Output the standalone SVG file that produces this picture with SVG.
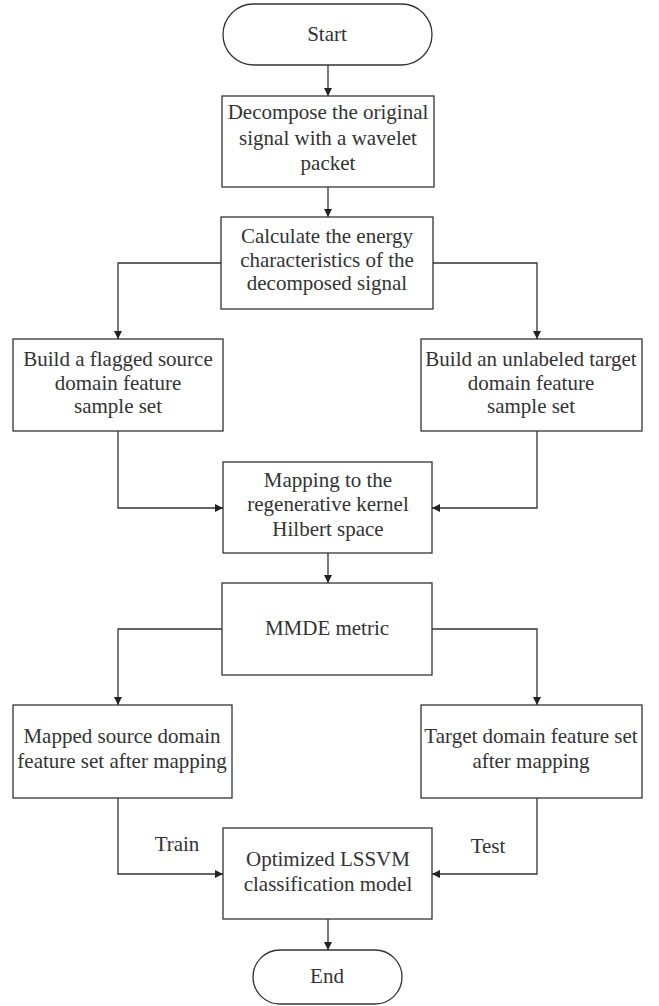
<svg xmlns="http://www.w3.org/2000/svg" width="659" height="1006" viewBox="0 0 659 1006">
<style>
.box{fill:#fff;stroke:#333;stroke-width:1.3}
.t{font-family:"Liberation Serif","Times New Roman",serif;font-size:21px;fill:#333;text-anchor:middle}
.c{fill:none;stroke:#333;stroke-width:1.3}
</style>
<defs>
<marker id="ah" viewBox="0 0 10 10" refX="10" refY="5" markerWidth="9" markerHeight="8" markerUnits="userSpaceOnUse" orient="auto">
<path d="M0,0 L10,5 L0,10 Z" fill="#222"/>
</marker>
</defs>
<rect width="659" height="1006" fill="#fff"/>
<g id="connectors">
<line class="c" x1="328" y1="65" x2="328" y2="96" marker-end="url(#ah)"/>
<line class="c" x1="328" y1="187" x2="328" y2="217" marker-end="url(#ah)"/>
<polyline class="c" points="222,263 118,263 118,339" marker-end="url(#ah)"/>
<polyline class="c" points="433,263 537,263 537,339" marker-end="url(#ah)"/>
<polyline class="c" points="118,431 118,508 223,508" marker-end="url(#ah)"/>
<polyline class="c" points="537,431 537,508 432,508" marker-end="url(#ah)"/>
<line class="c" x1="328" y1="553" x2="328" y2="583" marker-end="url(#ah)"/>
<polyline class="c" points="222,629 118,629 118,705" marker-end="url(#ah)"/>
<polyline class="c" points="432,629 537,629 537,705" marker-end="url(#ah)"/>
<polyline class="c" points="118,798 118,874 223,874" marker-end="url(#ah)"/>
<polyline class="c" points="537,798 537,874 432,874" marker-end="url(#ah)"/>
<line class="c" x1="328" y1="919" x2="328" y2="950" marker-end="url(#ah)"/>
<text class="t" x="177" y="851">Train</text>
<text class="t" x="488" y="853">Test</text>
</g>
<g id="start">
<rect class="box" x="223" y="4" width="209" height="61" rx="30.5"/>
<text class="t" x="327" y="41">Start</text>
</g>
<g id="decompose">
<rect class="box" x="222" y="96" width="212" height="91"/>
<text class="t" x="328" y="119">Decompose the original</text>
<text class="t" x="328" y="145">signal with a wavelet</text>
<text class="t" x="328" y="170">packet</text>
</g>
<g id="calculate">
<rect class="box" x="221" y="217" width="212" height="92"/>
<text class="t" x="327" y="243">Calculate the energy</text>
<text class="t" x="327" y="267">characteristics of the</text>
<text class="t" x="327" y="290">decomposed signal</text>
</g>
<g id="source">
<rect class="box" x="13" y="339" width="210" height="92"/>
<text class="t" x="118" y="366">Build a flagged source</text>
<text class="t" x="118" y="390">domain feature</text>
<text class="t" x="118" y="413">sample set</text>
</g>
<g id="target">
<rect class="box" x="421" y="339" width="221" height="92"/>
<text class="t" x="531" y="366">Build an unlabeled target</text>
<text class="t" x="531" y="390">domain feature</text>
<text class="t" x="531" y="413">sample set</text>
</g>
<g id="mapping">
<rect class="box" x="223" y="462" width="209" height="91"/>
<text class="t" x="328" y="487">Mapping to the</text>
<text class="t" x="328" y="511">regenerative kernel</text>
<text class="t" x="328" y="536">Hilbert space</text>
</g>
<g id="mmde">
<rect class="box" x="222" y="583" width="210" height="92"/>
<text class="t" x="327" y="635">MMDE metric</text>
</g>
<g id="mapped-source">
<rect class="box" x="13" y="705" width="219" height="93"/>
<text class="t" x="122" y="743">Mapped source domain</text>
<text class="t" x="122" y="768">feature set after mapping</text>
</g>
<g id="mapped-target">
<rect class="box" x="421" y="705" width="221" height="93"/>
<text class="t" x="531" y="743">Target domain feature set</text>
<text class="t" x="531" y="768">after mapping</text>
</g>
<g id="lssvm">
<rect class="box" x="223" y="828" width="209" height="91"/>
<text class="t" x="328" y="866">Optimized LSSVM</text>
<text class="t" x="328" y="891">classification model</text>
</g>
<g id="end">
<rect class="box" x="253" y="950" width="149" height="54" rx="27"/>
<text class="t" x="327" y="983">End</text>
</g>
</svg>
